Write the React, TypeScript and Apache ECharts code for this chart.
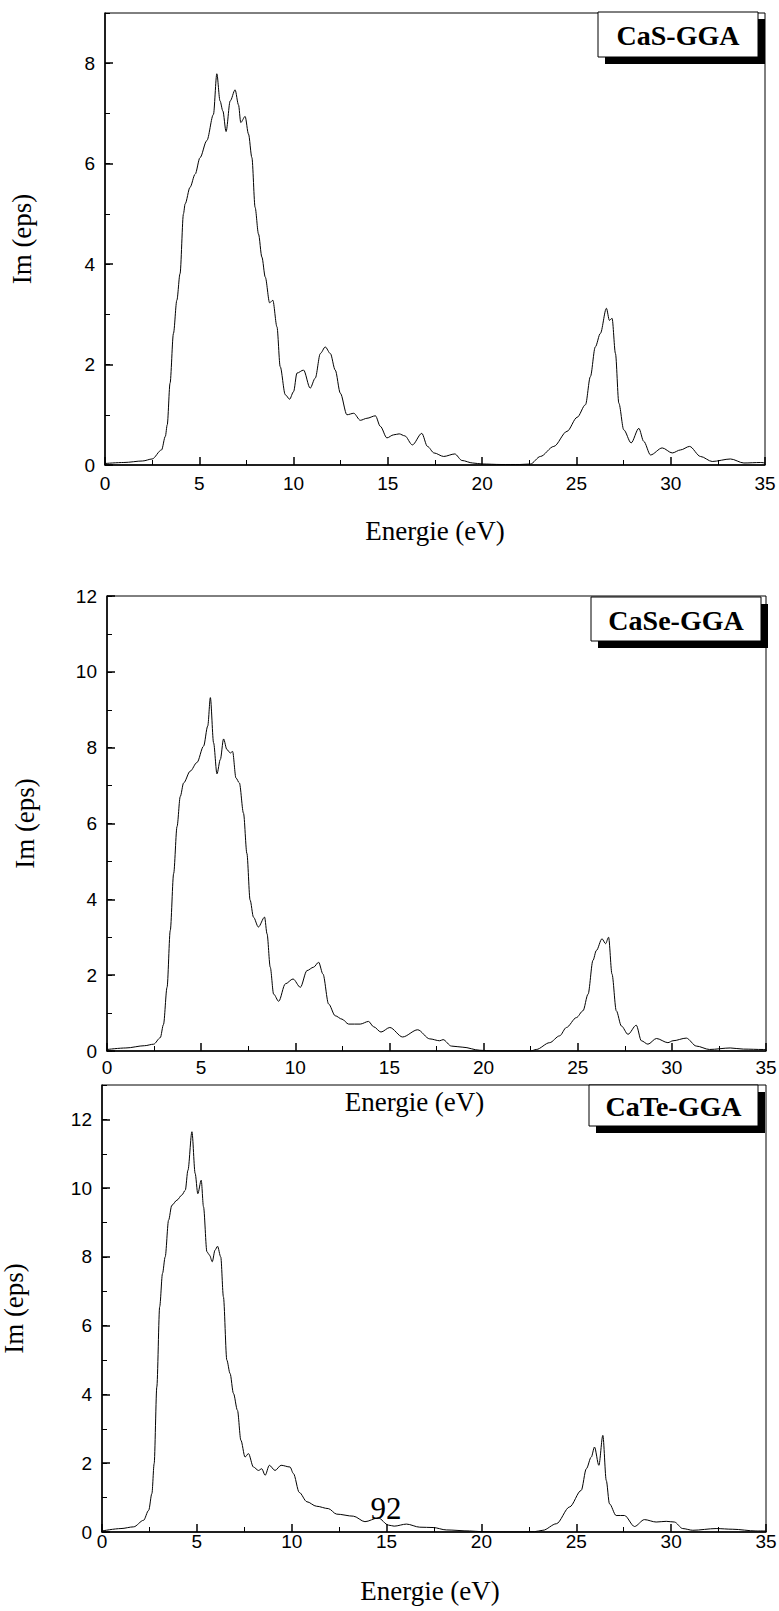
import React, { useEffect, useRef } from "react";
import * as echarts from "echarts";

// ---- Data ----
const energyCaS = [0, 1, 2, 2.5, 3.0, 3.2, 3.3, 3.45, 3.63, 3.81, 3.98, 4.16, 4.25, 4.51, 4.78, 5.04, 5.4, 5.75, 5.93, 6.1, 6.25, 6.42, 6.64, 6.9, 7.08, 7.2, 7.43, 7.61, 7.79, 7.96, 8.14, 8.32, 8.5, 8.73, 8.9, 9.12, 9.29, 9.56, 9.79, 10.0, 10.18, 10.53, 10.88, 11.15, 11.42, 11.68, 11.95, 12.21, 12.48, 12.83, 13.19, 13.54, 13.89, 14.34, 14.6, 14.95, 15.3, 15.6, 15.9, 16.3, 16.8, 17.1, 17.45, 17.96, 18.55, 18.93, 19.5, 20, 21, 22, 22.56, 23.09, 23.8, 24.5, 25.04, 25.48, 25.74, 26.0, 26.27, 26.59, 26.75, 26.89, 27.07, 27.25, 27.51, 27.9, 28.31, 28.57, 28.93, 29.55, 30.08, 30.52, 31.0, 31.58, 32.2, 33.17, 33.88, 34.77, 35];
const imCaS = [0.03, 0.05, 0.08, 0.12, 0.3, 0.57, 0.8, 1.63, 2.62, 3.28, 3.81, 5.0, 5.2, 5.53, 5.79, 6.12, 6.46, 6.98, 7.79, 7.25, 7.05, 6.64, 7.25, 7.47, 7.17, 6.82, 6.94, 6.59, 6.12, 5.13, 4.6, 4.14, 3.74, 3.23, 3.28, 2.75, 1.96, 1.4, 1.31, 1.46, 1.83, 1.89, 1.53, 1.73, 2.22, 2.35, 2.22, 1.89, 1.43, 1.0, 1.03, 0.89, 0.93, 0.98, 0.77, 0.54, 0.6, 0.62, 0.58, 0.4, 0.63, 0.37, 0.24, 0.17, 0.22, 0.09, 0.04, 0.02, 0.01, 0.01, 0.02, 0.17, 0.37, 0.67, 0.95, 1.2, 1.76, 2.35, 2.62, 3.12, 2.88, 2.92, 2.22, 1.23, 0.7, 0.44, 0.73, 0.47, 0.2, 0.34, 0.24, 0.3, 0.37, 0.17, 0.07, 0.12, 0.04, 0.05, 0.04];

const energyCaSe = [0, 1, 2, 2.48, 2.83, 3.0, 3.19, 3.36, 3.54, 3.72, 3.89, 4.07, 4.42, 4.78, 5.13, 5.35, 5.49, 5.66, 5.84, 6.02, 6.19, 6.37, 6.55, 6.67, 6.85, 7.03, 7.25, 7.43, 7.6, 7.78, 8.04, 8.37, 8.5, 8.67, 8.85, 9.12, 9.47, 9.88, 10.27, 10.62, 10.97, 11.24, 11.47, 11.77, 12.12, 12.48, 12.83, 13.45, 13.89, 14.16, 14.55, 15.02, 15.7, 16.5, 17.14, 17.67, 17.85, 18.29, 18.9, 19.8, 20.5, 21.5, 22.5, 22.8, 23.51, 24.04, 24.4, 24.93, 25.28, 25.55, 25.81, 25.99, 26.29, 26.48, 26.64, 26.82, 27.05, 27.32, 27.67, 28.11, 28.38, 28.73, 29.18, 29.79, 30.06, 30.77, 31.3, 32.0, 33.1, 33.8, 34.85, 35];
const imCaSe = [0.04, 0.08, 0.14, 0.18, 0.35, 0.7, 1.68, 3.18, 4.68, 5.92, 6.71, 7.07, 7.38, 7.61, 8.04, 8.57, 9.32, 8.13, 7.31, 7.69, 8.23, 7.95, 7.86, 7.9, 7.2, 7.07, 6.27, 5.21, 3.98, 3.53, 3.27, 3.53, 3.09, 2.21, 1.5, 1.31, 1.77, 1.9, 1.68, 2.12, 2.21, 2.34, 2.03, 1.24, 0.93, 0.84, 0.71, 0.71, 0.78, 0.64, 0.5, 0.62, 0.37, 0.56, 0.32, 0.27, 0.3, 0.13, 0.1, 0.02, 0, 0, 0, 0.04, 0.22, 0.4, 0.62, 0.88, 1.06, 1.5, 2.39, 2.65, 2.96, 2.83, 3.0, 2.03, 1.06, 0.66, 0.44, 0.68, 0.27, 0.18, 0.33, 0.22, 0.27, 0.34, 0.13, 0.04, 0.08, 0.05, 0.04, 0.04];

const energyCaTe = [0, 1, 1.67, 2.19, 2.46, 2.63, 2.75, 2.89, 3.04, 3.19, 3.33, 3.51, 3.68, 3.95, 4.21, 4.39, 4.53, 4.74, 4.91, 5.05, 5.23, 5.35, 5.53, 5.67, 5.81, 5.96, 6.09, 6.26, 6.4, 6.58, 6.75, 6.93, 7.14, 7.32, 7.54, 7.72, 7.98, 8.25, 8.42, 8.6, 8.82, 9.12, 9.44, 9.91, 10.09, 10.4, 10.8, 11.3, 11.93, 12.37, 13.25, 13.86, 14.56, 15.1, 15.4, 16.05, 16.75, 17.45, 18.15, 19.38, 20, 21, 22, 22.8, 23.24, 23.95, 24.65, 25.26, 25.53, 25.79, 25.96, 26.19, 26.4, 26.58, 26.75, 27.1, 27.54, 28.07, 28.59, 29.21, 29.74, 30.17, 30.61, 31.14, 32.37, 33.25, 34.47, 35];
const imCaTe = [0.03, 0.1, 0.15, 0.34, 0.63, 1.12, 1.99, 4.22, 6.55, 7.52, 8.0, 9.07, 9.5, 9.65, 9.8, 9.94, 10.52, 11.64, 10.43, 9.84, 10.23, 9.46, 8.15, 8.05, 7.86, 8.2, 8.31, 8.0, 6.84, 5.0, 4.61, 4.03, 3.54, 2.67, 2.18, 2.28, 1.89, 1.79, 1.84, 1.65, 1.94, 1.79, 1.94, 1.89, 1.7, 1.15, 0.88, 0.75, 0.68, 0.52, 0.46, 0.3, 0.41, 0.2, 0.17, 0.23, 0.14, 0.13, 0.06, 0.03, 0.01, 0, 0, 0.01, 0.05, 0.24, 0.73, 1.21, 1.84, 2.18, 2.47, 1.94, 2.81, 1.5, 0.82, 0.48, 0.48, 0.16, 0.36, 0.29, 0.31, 0.29, 0.1, 0.05, 0.1, 0.08, 0.03, 0.03];

const panelLabels = ["CaS-GGA", "CaSe-GGA", "CaTe-GGA"];
const yMaxes = [9, 12, 13];
const xTitle = "Energie (eV)";
const yTitle = "Im (eps)";
const pageNumber = "92";

const SERIF = "Liberation Serif";
const SANS = "Liberation Sans";

const zip = (xs: number[], ys: number[]) => xs.map((x, i) => [x, ys[i]]);

// layout (px)
const grids = [
  { left: 105, top: 13, width: 660, height: 452 },
  { left: 107, top: 596, width: 659, height: 455 },
  { left: 102, top: 1085, width: 664, height: 447 },
];
const xLabelMargins = [9, 7, 0];
const xNameGaps = [52, 37, 45];
const xNamePad = [
  [0, 0, 0, 0],
  [0, 44, 0, 0],
  [0, 8, 0, 0],
];
const yNameGaps = [70, 69, 75];
const boxes = [
  { x: 598, y: 12, w: 160, h: 45 },
  { x: 591, y: 597, w: 170, h: 44 },
  { x: 589, y: 1085, w: 169, h: 41 },
];

export default function App() {
  const ref = useRef<HTMLDivElement>(null);
  useEffect(() => {
    document.body.style.margin = "0";
    if (!ref.current) return;
    const chart = echarts.init(ref.current, null, { renderer: "svg" });
    const series = [zip(energyCaS, imCaS), zip(energyCaSe, imCaSe), zip(energyCaTe, imCaTe)];

    const xAxis: any[] = [];
    const yAxis: any[] = [];
    const seriesOpt: any[] = [];
    const graphic: any[] = [];

    grids.forEach((g, i) => {
      xAxis.push({
        gridIndex: i,
        type: "value",
        min: 0,
        max: 35,
        interval: 5,
        axisLine: { show: true, lineStyle: { color: "#000", width: 1.5 } },
        axisTick: { show: true, inside: true, length: 8, lineStyle: { color: "#000", width: 1.5 } },
        minorTick: { show: true, splitNumber: 2, length: 5, lineStyle: { color: "#000", width: 1 } },
        splitLine: { show: false },
        axisLabel: { color: "#000", fontFamily: SANS, fontSize: 19, margin: xLabelMargins[i] },
        name: xTitle,
        nameLocation: "middle",
        nameGap: xNameGaps[i],
        nameTextStyle: { fontFamily: SERIF, fontSize: 27, color: "#000", padding: xNamePad[i] },
      });
      yAxis.push({
        gridIndex: i,
        type: "value",
        position: "left",
        offset: 0,
        min: 0,
        max: yMaxes[i],
        interval: 1,
        axisLine: { show: true, lineStyle: { color: "#000", width: 1.5 } },
        axisTick: { show: true, inside: true, length: 5, lineStyle: { color: "#000", width: 1 } },
        axisLabel: { show: false },
        splitLine: { show: false },
      });
      yAxis.push({
        gridIndex: i,
        type: "value",
        position: "left",
        offset: 0,
        min: 0,
        max: yMaxes[i],
        interval: 2,
        axisLine: { show: false },
        axisTick: { show: true, inside: true, length: 8, lineStyle: { color: "#000", width: 1.5 } },
        axisLabel: {
          color: "#000",
          fontFamily: SANS,
          fontSize: 19,
          margin: 10,
          showMaxLabel: yMaxes[i] % 2 === 0,
        },
        splitLine: { show: false },
        name: yTitle,
        nameLocation: "middle",
        nameGap: yNameGaps[i],
        nameTextStyle: { fontFamily: SERIF, fontSize: 27, color: "#000" },
      });
      seriesOpt.push({
        type: "line",
        xAxisIndex: i,
        yAxisIndex: 2 * i,
        data: series[i],
        showSymbol: false,
        smooth: 0.3,
        smoothMonotone: "x",
        lineStyle: { color: "#000", width: 1 },
        silent: true,
      });

      const b = boxes[i];
      graphic.push({
        type: "rect",
        z: 10,
        shape: { x: b.x + 7, y: b.y + 7, width: b.w, height: b.h },
        style: { fill: "#000" },
      });
      graphic.push({
        type: "rect",
        z: 11,
        shape: { x: b.x, y: b.y, width: b.w, height: b.h },
        style: { fill: "#fff", stroke: "#000", lineWidth: 1 },
      });
      graphic.push({
        type: "text",
        z: 12,
        x: b.x + b.w / 2,
        y: b.y + b.h / 2 + 1,
        style: {
          text: panelLabels[i],
          fontFamily: SERIF,
          fontWeight: "bold",
          fontSize: 28,
          fill: "#000",
          align: "center",
          verticalAlign: "middle",
        },
      });
    });

    graphic.push({
      type: "text",
      z: 12,
      x: 386,
      y: 1508,
      style: {
        text: pageNumber,
        fontFamily: SERIF,
        fontSize: 31,
        fill: "#000",
        align: "center",
        verticalAlign: "middle",
      },
    });

    chart.setOption({
      animation: false,
      backgroundColor: "#fff",
      grid: grids.map((g) => ({
        ...g,
        show: true,
        borderColor: "#000",
        borderWidth: 1,
        backgroundColor: "transparent",
        containLabel: false,
        outerBoundsMode: "none",
      })),
      xAxis,
      yAxis,
      series: seriesOpt,
      graphic,
    });
    return () => chart.dispose();
  }, []);
  return <div ref={ref} style={{ width: 779, height: 1611 }} />;
}
